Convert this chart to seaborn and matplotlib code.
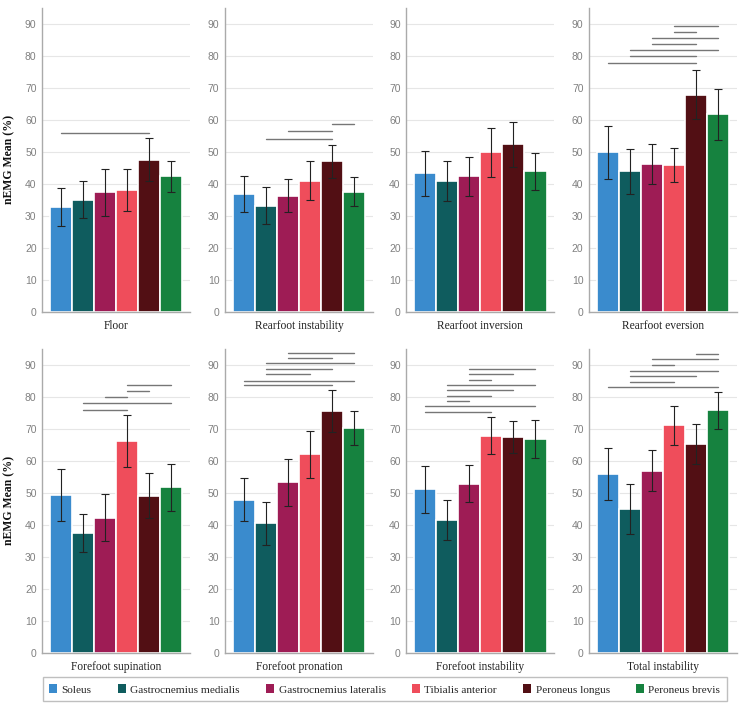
import numpy as np
import pandas as pd
import seaborn as sns
import matplotlib.pyplot as plt
from matplotlib.patches import Patch

muscles = ["Soleus", "Gastrocnemius medialis", "Gastrocnemius lateralis",
           "Tibialis anterior", "Peroneus longus", "Peroneus brevis"]
colors = ["#3a8bcd", "#0f5c5e", "#9e1c55", "#ef4d5b", "#520f14", "#16823f"]

conditions = ["Floor", "Rearfoot instability", "Rearfoot inversion", "Rearfoot eversion",
              "Forefoot supination", "Forefoot pronation", "Forefoot instability", "Total instability"]

# mean nEMG (%) per muscle
floor_mean = [32.8, 35.1, 37.3, 38.0, 47.6, 42.3]
rear_inst_mean = [36.7, 33.2, 36.3, 40.9, 47.0, 37.6]
rear_inv_mean = [43.3, 40.9, 42.3, 49.9, 52.3, 43.9]
rear_ev_mean = [49.8, 43.9, 46.2, 45.8, 67.9, 61.7]
fore_sup_mean = [49.4, 37.4, 42.3, 66.2, 49.1, 51.7]
fore_pro_mean = [47.9, 40.5, 53.3, 62.0, 75.5, 70.2]
fore_inst_mean = [51.1, 41.6, 52.9, 67.9, 67.5, 66.8]
total_inst_mean = [56.0, 45.1, 56.9, 71.1, 65.3, 75.8]

# standard deviation
floor_sd = [6.0, 5.7, 7.2, 6.5, 6.8, 4.8]
rear_inst_sd = [5.6, 5.8, 5.2, 6.1, 5.2, 4.4]
rear_inv_sd = [7.1, 6.2, 6.2, 7.7, 6.9, 5.8]
rear_ev_sd = [8.2, 7.0, 6.2, 5.3, 7.6, 7.9]
fore_sup_sd = [8.2, 5.9, 7.2, 8.1, 7.0, 7.4]
fore_pro_sd = [6.6, 6.7, 7.4, 7.3, 6.5, 5.3]
fore_inst_sd = [7.4, 6.2, 5.8, 5.9, 5.1, 5.9]
total_inst_sd = [8.1, 7.8, 6.4, 6.0, 6.2, 5.8]

# significance lines: (muscle a, muscle b, height)
floor_sig = [(0, 4, 56.0)]
rear_inst_sig = [(1, 4, 54.1), (2, 4, 56.5), (4, 5, 58.8)]
rear_inv_sig = []
rear_ev_sig = [(0, 4, 77.9), (1, 4, 80.0), (1, 5, 81.9), (2, 4, 83.8),
               (2, 5, 85.6), (3, 4, 87.4), (3, 5, 89.3)]
fore_sup_sig = [(1, 3, 75.8), (1, 5, 78.0), (2, 3, 79.9), (3, 4, 81.7), (3, 5, 83.6)]
fore_pro_sig = [(0, 4, 83.6), (0, 5, 85.1), (1, 3, 87.0), (1, 4, 88.8),
                (1, 5, 90.5), (2, 4, 92.3), (2, 5, 93.8)]
fore_inst_sig = [(0, 3, 75.2), (0, 5, 77.1), (1, 2, 78.6), (1, 3, 80.4), (1, 4, 82.0),
                 (1, 5, 83.8), (2, 3, 85.4), (2, 4, 87.0), (2, 5, 88.8)]
total_inst_sig = [(0, 5, 83.2), (1, 3, 84.8), (1, 4, 86.6), (1, 5, 88.2),
                  (2, 3, 89.9), (2, 5, 91.8), (4, 5, 93.4)]

means = [floor_mean, rear_inst_mean, rear_inv_mean, rear_ev_mean,
         fore_sup_mean, fore_pro_mean, fore_inst_mean, total_inst_mean]
sds = [floor_sd, rear_inst_sd, rear_inv_sd, rear_ev_sd,
       fore_sup_sd, fore_pro_sd, fore_inst_sd, total_inst_sd]
sigs = [floor_sig, rear_inst_sig, rear_inv_sig, rear_ev_sig,
        fore_sup_sig, fore_pro_sig, fore_inst_sig, total_inst_sig]

sns.set_theme(style="white")
plt.rcParams['font.family'] = ['Liberation Sans', 'DejaVu Sans']
serif = ['Liberation Serif', 'DejaVu Serif']

palette = dict(zip(muscles, colors))
fig = plt.figure(figsize=(7.4, 7.12), dpi=100)

lefts = [0.057, 0.304, 0.549, 0.796]
bottoms = [0.562, 0.083]
for k, cond in enumerate(conditions):
    r, c = divmod(k, 4)
    ax = fig.add_axes([lefts[c], bottoms[r], 0.2, 0.427])
    df = pd.DataFrame({"muscle": muscles, "value": means[k]})
    sns.barplot(data=df, x="muscle", y="value", hue="muscle", palette=palette,
                order=muscles, hue_order=muscles, errorbar=None, legend=False,
                saturation=1, width=1.0, edgecolor="white", linewidth=1.2,
                ax=ax, zorder=2)
    ax.errorbar(np.arange(len(muscles)), means[k], yerr=sds[k], fmt="none",
                ecolor="#222222", elinewidth=0.8, capsize=3, capthick=0.8, zorder=3)
    for a, b, h in sigs[k]:
        ax.plot([a, b], [h, h], color="#767676", lw=1.0, zorder=3)
    ax.set_xlim(-0.85, 5.85)
    ax.set_ylim(0, 95)
    ax.set_yticks(np.arange(0, 91, 10))
    ax.set_xticks([])
    ax.yaxis.grid(True, color="#e6e6e6", lw=0.8, zorder=0)
    ax.set_axisbelow(True)
    ax.tick_params(axis="y", labelsize=7.5, labelcolor="#808080", length=0, pad=4)
    for s in ["top", "right"]:
        ax.spines[s].set_visible(False)
    for s in ["left", "bottom"]:
        ax.spines[s].set_color("#aaaaaa")
        ax.spines[s].set_linewidth(1.0)
    ax.set_xlabel(cond, family=serif, fontsize=8.3, color="#222222", labelpad=6)
    if c == 0:
        ax.set_ylabel("nEMG Mean (%)", family=serif, fontsize=8.5,
                      fontweight="bold", color="#111111", labelpad=7)
    else:
        ax.set_ylabel("")

handles = [Patch(facecolor=col, edgecolor="none") for col in colors]
leg = fig.legend(handles, muscles, loc="lower left", ncol=6, mode="expand",
                 bbox_to_anchor=(0.05, 0.007, 0.94, 0.034), frameon=True, fancybox=False,
                 handlelength=0.7, handleheight=0.9, handletextpad=0.4,
                 borderpad=0.6, prop={"family": serif, "size": 8.1})
leg.get_frame().set_edgecolor("#b0b0b0")
leg.get_frame().set_linewidth(1.0)

fig.savefig("out.png", dpi=100)
